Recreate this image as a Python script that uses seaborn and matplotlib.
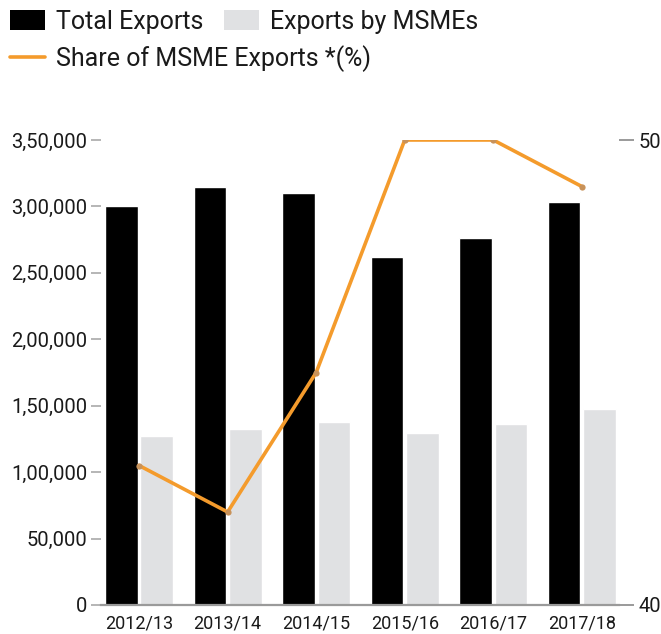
import matplotlib
matplotlib.use("Agg")
import matplotlib.pyplot as plt
from matplotlib.patches import Patch
from matplotlib.lines import Line2D
import numpy as np
import pandas as pd
import seaborn as sns

# Export values (USD million) and MSME share (%)
years = ["2012/13", "2013/14", "2014/15", "2015/16", "2016/17", "2017/18"]
total_exports = [300400, 314400, 310300, 262300, 275900, 303500]
msme_exports = [127300, 132300, 137700, 129600, 136200, 147200]
msme_share = [43.0, 42.0, 45.0, 50.0, 50.0, 49.0]

left_ticks = [0, 50000, 100000, 150000, 200000, 250000, 300000, 350000]
left_labels = ["0", "50,000", "1,00,000", "1,50,000", "2,00,000", "2,50,000", "3,00,000", "3,50,000"]
right_ticks = [40, 50]

series_names = ["Total Exports", "Exports by MSMEs"]
line_name = "Share of MSME Exports *(%)"

BLACK = "#000000"
GREY = "#E0E1E3"
ORANGE = "#F49B2C"
AXIS_GREY = "#9A9A9A"
TEXT = "#1A1A1A"

sns.set_theme(style="white")
plt.rcParams["font.family"] = ["Roboto", "DejaVu Sans"]

df = pd.DataFrame({
    "year": years * 2,
    "value": total_exports + msme_exports,
    "series": [series_names[0]] * len(years) + [series_names[1]] * len(years),
})

fig = plt.figure(figsize=(6.61, 6.34), dpi=100)
ax = fig.add_axes([101 / 661, 29 / 634, 518 / 661, 465 / 634])

sns.barplot(data=df, x="year", y="value", hue="series", order=years,
            hue_order=series_names, palette=[BLACK, GREY], width=0.8,
            gap=0.08, saturation=1, legend=False, ax=ax)

ax.set_xlim(-0.43, 5.42)
ax.set_ylim(0, 350000)
ax.set_yticks(left_ticks)
ax.set_yticklabels(left_labels)
ax.set_xlabel("")
ax.set_ylabel("")

ax2 = ax.twinx()
sns.lineplot(x=np.arange(len(years)), y=msme_share, ax=ax2, color=ORANGE,
             linewidth=2.6, marker="o", markersize=4.5,
             markerfacecolor="#C8925A", markeredgewidth=0)
ax2.set_ylim(40, 50)
ax2.set_yticks(right_ticks)
ax2.set_ylabel("")

for a in (ax, ax2):
    for side in ("top", "left", "right", "bottom"):
        a.spines[side].set_visible(False)
    a.grid(False)

ax.spines["bottom"].set_visible(True)
ax.spines["bottom"].set_color(AXIS_GREY)
ax.spines["bottom"].set_linewidth(1.6)

ax.tick_params(axis="y", left=True, length=7, width=1.4, color="#B5B5B5",
               pad=3, labelsize=14.5, labelcolor=TEXT)
ax.tick_params(axis="x", bottom=False, pad=1, labelsize=13, labelcolor=TEXT)
ax2.tick_params(axis="y", right=True, length=11, width=1.4, color=AXIS_GREY,
                pad=3, labelsize=14.5, labelcolor=TEXT)

# Legend rows above the plot
bar_handles = [Patch(facecolor=BLACK, edgecolor="none"),
               Patch(facecolor=GREY, edgecolor="none")]
leg1 = fig.legend(bar_handles, series_names, loc="upper left",
                  bbox_to_anchor=(10 / 661, 1 - 10 / 634), ncol=2, frameon=False,
                  fontsize=18, handlelength=1.4, handleheight=0.85,
                  handletextpad=0.42, columnspacing=0.85, borderpad=0,
                  borderaxespad=0)
line_handle = [Line2D([0], [0], color=ORANGE, linewidth=2.6)]
leg2 = fig.legend(line_handle, [line_name], loc="upper left",
                  bbox_to_anchor=(10 / 661, 1 - 45 / 634), frameon=False,
                  fontsize=18, handlelength=1.4, handletextpad=0.42,
                  borderpad=0, borderaxespad=0)
for leg in (leg1, leg2):
    for t in leg.get_texts():
        t.set_color(TEXT)

fig.savefig("out.png", dpi=100)
